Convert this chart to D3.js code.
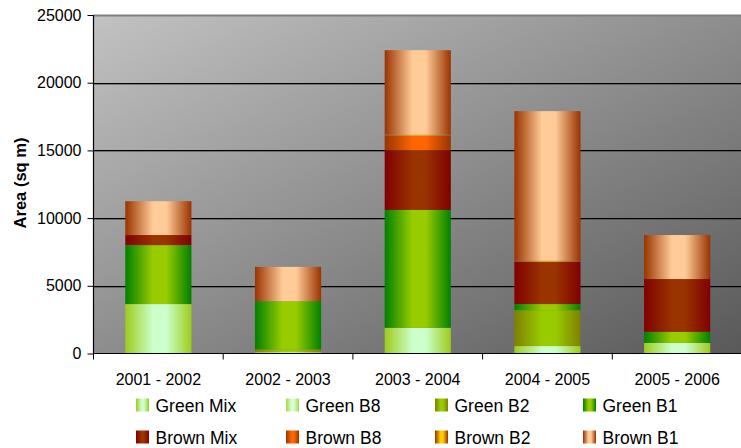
<!DOCTYPE html>
<html>
<head>
<meta charset="utf-8">
<script src="https://cdn.jsdelivr.net/npm/d3@7"></script>
<style>
  html, body { margin: 0; padding: 0; background: #fff; }
  svg { display: block; font-family: Arial, "Liberation Sans", sans-serif; }
</style>
</head>
<body>
<svg id="chart" width="741" height="448"></svg>
<script>
// Survey periods along the x axis
const categories = ["2001 - 2002", "2002 - 2003", "2003 - 2004", "2004 - 2005", "2005 - 2006"];

// Area per class (sq m), stacked bottom to top in this order
const seriesNames = ["Green Mix", "Green B8", "Green B2", "Green B1", "Brown Mix", "Brown B8", "Brown B2", "Brown B1"];
const greenMix = [3650, 100, 1900, 550, 780];
const greenB8  = [0, 0, 0, 0, 0];
const greenB2  = [0, 200, 0, 2650, 0];
const greenB1  = [4350, 3570, 8700, 450, 820];
const brownMix = [750, 0, 4400, 3130, 3900];
const brownB8  = [0, 0, 1100, 0, 0];
const brownB2  = [0, 0, 60, 70, 0];
const brownB1  = [2500, 2530, 6240, 11050, 3250];

const yTicks = [0, 5000, 10000, 15000, 20000, 25000];

// Edge / centre colours of each series' banded fill
const fills = [
  ["#9ccc1c", "#ccffcc"],
  ["#a8d84a", "#d4ffd0"],
  ["#7f7f00", "#99cc00"],
  ["#008000", "#99cc00"],
  ["#800000", "#993300"],
  ["#993300", "#ff6600"],
  ["#993300", "#ffcc00"],
  ["#993300", "#ffcc99"]
];

const seriesValues = [greenMix, greenB8, greenB2, greenB1, brownMix, brownB8, brownB2, brownB1];
const table = categories.map((c, i) => {
  const row = { cat: c };
  seriesNames.forEach((s, k) => { row[s] = seriesValues[k][i]; });
  return row;
});

const svg = d3.select("#chart");
const plotL = 93.5, plotR = 742, plotT = 15, plotB = 353.5;

const x = d3.scaleBand().domain(categories).range([plotL, plotR])
  .paddingInner(0.49).paddingOuter(0.245);
const y = d3.scaleLinear().domain([0, 25000]).range([plotB, plotT]);

const defs = svg.append("defs");
const bg = defs.append("linearGradient").attr("id", "plotBg")
  .attr("x1", 0).attr("y1", 0).attr("x2", 1).attr("y2", 1);
bg.append("stop").attr("offset", 0).attr("stop-color", "#c2c2c2");
bg.append("stop").attr("offset", 1).attr("stop-color", "#595959");

fills.forEach((f, k) => {
  const g = defs.append("linearGradient").attr("id", "fill" + k)
    .attr("x1", 0).attr("y1", 0).attr("x2", 1).attr("y2", 0);
  g.append("stop").attr("offset", 0).attr("stop-color", f[0]);
  g.append("stop").attr("offset", 0.42).attr("stop-color", f[1]);
  g.append("stop").attr("offset", 0.62).attr("stop-color", f[1]);
  g.append("stop").attr("offset", 1).attr("stop-color", f[0]);
});

// Plot area
svg.append("rect").attr("x", plotL).attr("y", plotT)
  .attr("width", plotR - plotL).attr("height", plotB - plotT)
  .attr("fill", "url(#plotBg)");

// Gridlines
const grid = svg.append("g");
yTicks.filter(t => t > 0).forEach(t => {
  const yy = Math.round(y(t)) + 0.5;
  if (t === 25000) {
    grid.append("line").attr("x1", plotL).attr("x2", plotR).attr("y1", yy).attr("y2", yy)
      .attr("stroke", "#808080").attr("stroke-width", 2);
  } else {
    grid.append("line").attr("x1", plotL).attr("x2", plotR).attr("y1", yy + 1).attr("y2", yy + 1)
      .attr("stroke", "#3a3a3a").attr("stroke-opacity", 0.5).attr("stroke-width", 1);
    grid.append("line").attr("x1", plotL).attr("x2", plotR).attr("y1", yy).attr("y2", yy)
      .attr("stroke", "#000").attr("stroke-width", 1);
  }
});

// Stacked bars
const stack = d3.stack().keys(seriesNames)(table);
svg.append("g").selectAll("g").data(stack).join("g")
  .attr("fill", (d, k) => `url(#fill${k})`)
  .selectAll("rect").data(d => d).join("rect")
  .attr("x", d => x(d.data.cat))
  .attr("width", x.bandwidth())
  .attr("y", d => y(d[1]))
  .attr("height", d => Math.max(0, y(d[0]) - y(d[1])));

// Axes
const yAxis = svg.append("g").attr("transform", `translate(${plotL},0)`)
  .call(d3.axisLeft(y).tickValues(yTicks).tickFormat(d3.format("d")).tickSize(6).tickPadding(6));
const xAxis = svg.append("g").attr("transform", `translate(0,${plotB})`)
  .call(d3.axisBottom(x).tickSize(0).tickPadding(20));
// tick marks between categories
const step = x.step();
const bounds = d3.range(categories.length + 1).map(i => plotL + i * step);
xAxis.selectAll(".sep").data(bounds).join("line").attr("class", "sep")
  .attr("x1", d => d).attr("x2", d => d).attr("y1", 0).attr("y2", 6)
  .attr("stroke", "#000");

[yAxis, xAxis].forEach(a => {
  a.selectAll(".domain").attr("stroke", "#000").attr("stroke-width", 1.2);
  a.selectAll("text").attr("fill", "#000").attr("font-size", "16px");
});
yAxis.select(".domain").attr("d", `M0,${plotT}V${plotB}`);
xAxis.select(".domain").attr("d", `M${plotL},0H${plotR}`);
yAxis.selectAll(".tick line").attr("stroke", "#000");

// Axis title
svg.append("text")
  .attr("transform", "translate(26,183) rotate(-90)")
  .attr("text-anchor", "middle")
  .attr("font-size", "16.5px").attr("font-weight", "bold")
  .text("Area (sq m)");

// Legend
const legendX = [136, 286, 435, 583];
const legendY = [405, 437];
const legend = svg.append("g").selectAll("g").data(seriesNames).join("g")
  .attr("transform", (d, i) => `translate(${legendX[i % 4]},${legendY[Math.floor(i / 4)]})`);
legend.append("rect").attr("x", 0).attr("y", -6.5).attr("width", 13).attr("height", 13)
  .attr("fill", (d, i) => `url(#fill${i})`);
legend.append("text").attr("x", 19.5).attr("y", 6.5)
  .attr("font-size", "17.5px").attr("fill", "#000")
  .text(d => d);
</script>
</body>
</html>
